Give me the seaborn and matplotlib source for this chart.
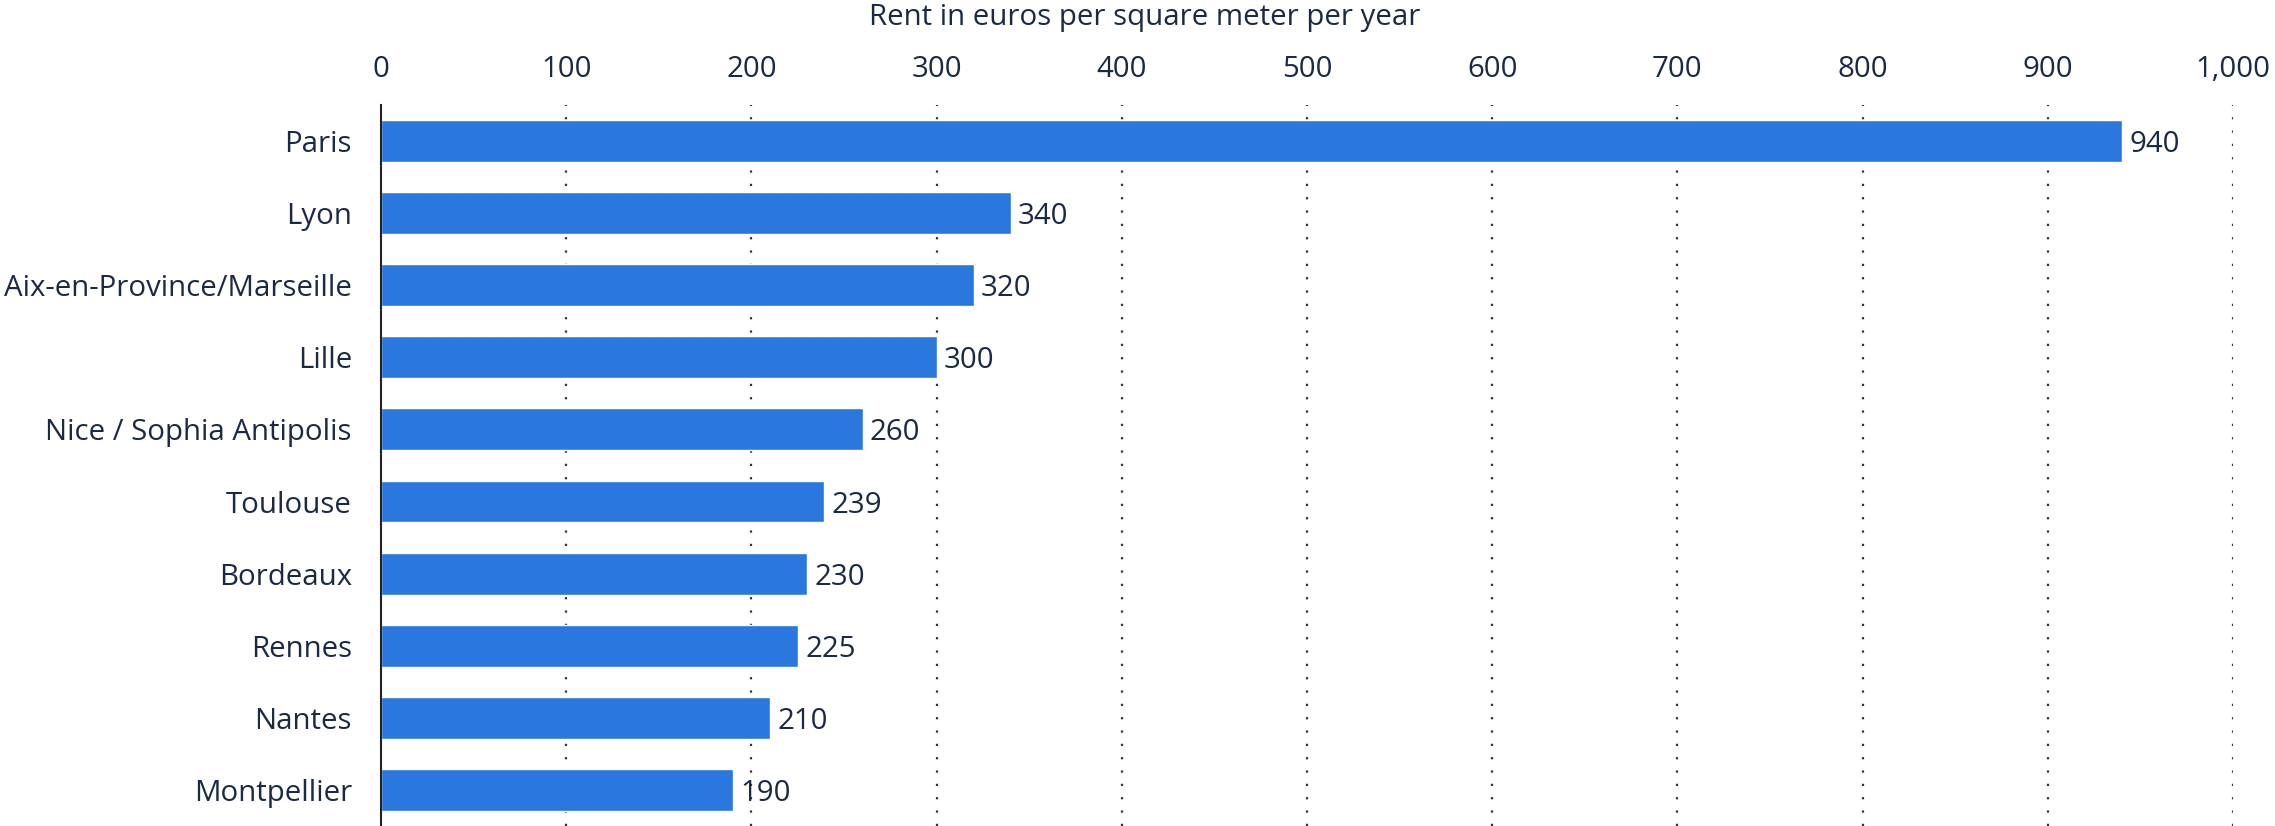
import matplotlib
matplotlib.use("Agg")
import matplotlib.pyplot as plt
import seaborn as sns
import pandas as pd

cities = ["Paris", "Lyon", "Aix-en-Province/Marseille", "Lille", "Nice / Sophia Antipolis",
          "Toulouse", "Bordeaux", "Rennes", "Nantes", "Montpellier"]
rents = [940, 340, 320, 300, 260, 239, 230, 225, 210, 190]
x_ticks = [0, 100, 200, 300, 400, 500, 600, 700, 800, 900, 1000]
x_tick_labels = ["0", "100", "200", "300", "400", "500", "600", "700", "800", "900", "1,000"]
x_label = "Rent in euros per square meter per year"

sns.set_theme(style="white")
plt.rcParams['font.family'] = ['Open Sans', 'DejaVu Sans']
text_color = "#1b2a44"
bar_color = "#2a77dd"
fs = 21.2

df = pd.DataFrame({"city": cities, "rent": rents})

fig = plt.figure(figsize=(22.75, 8.26), dpi=100)
ax = fig.add_axes([0.1675, 0.0, 0.9815 - 0.1675, 0.873])

sns.barplot(data=df, x="rent", y="city", orient="h", color=bar_color, width=0.58,
            saturation=1, ax=ax, zorder=3)

ax.set_xlim(0, 1000)
ax.set_ylim(9.5, -0.5)
ax.xaxis.set_ticks_position("top")
ax.set_xticks(x_ticks)
ax.set_xticklabels(x_tick_labels)
ax.set_xlabel("")
ax.set_ylabel("")
ax.tick_params(axis="x", length=0, pad=15, labelsize=fs, labelcolor=text_color)
ax.tick_params(axis="y", length=0, pad=21, labelsize=fs, labelcolor=text_color)

fig.text(0.503, 1 - 17.5 / 826, x_label, ha="center", va="center",
         fontsize=fs, color=text_color)

for s in ["top", "right", "bottom"]:
    ax.spines[s].set_visible(False)
ax.spines["left"].set_color("#222222")
ax.spines["left"].set_linewidth(1.5)
ax.spines["left"].set_zorder(5)

ax.grid(False)
for t in x_ticks[1:]:
    ax.axvline(t, color="#333333", linestyle=(0, (1, 5)), linewidth=1.6, zorder=1)

for i, v in enumerate(rents):
    ax.text(v + 4, i, f"{v}", va="center_baseline", ha="left", fontsize=fs,
            color=text_color, zorder=4)

fig.savefig("out.png", dpi=100)
